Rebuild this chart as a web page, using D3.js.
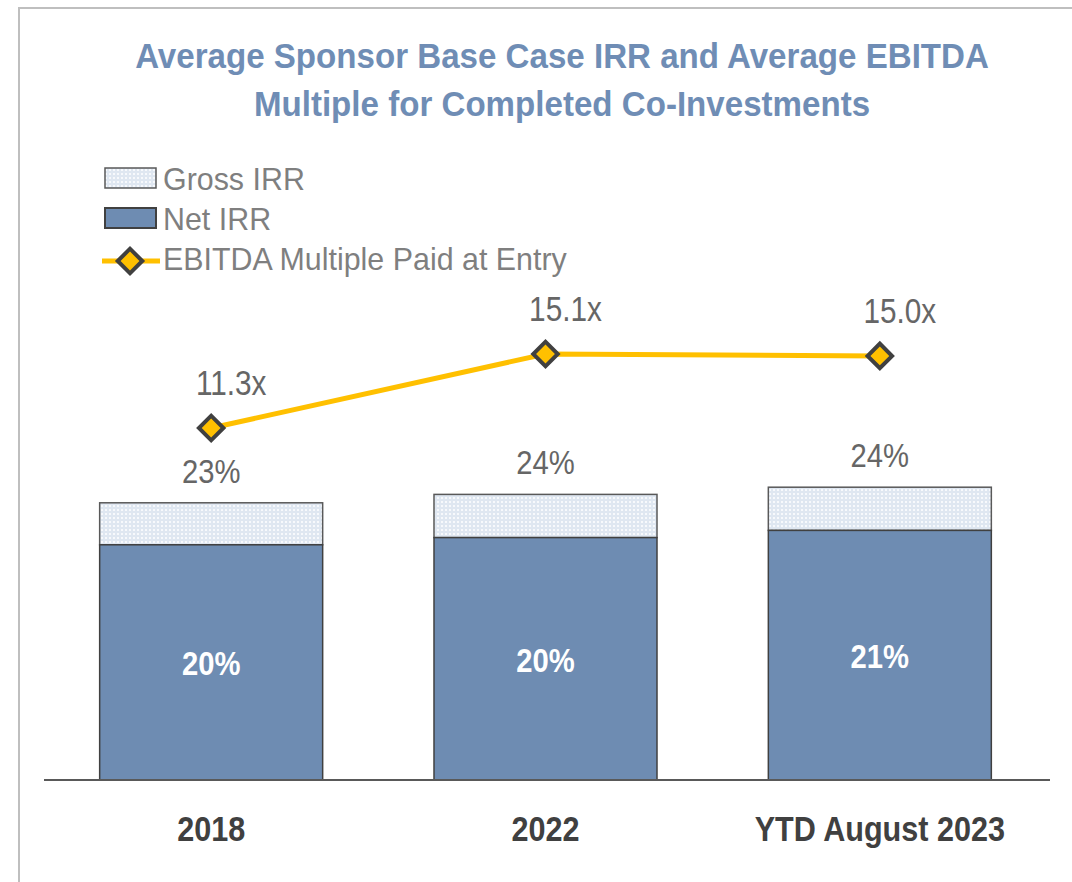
<!DOCTYPE html>
<html>
<head>
<meta charset="utf-8">
<script src="https://cdn.jsdelivr.net/npm/d3@7"></script>
<style>
  body { margin: 0; background: #fff; }
  svg { display: block; }
  text { font-family: "Liberation Sans", Arial, sans-serif; }
</style>
</head>
<body>
<div id="chart"></div>
<script>
var categories = ['2018', '2022', 'YTD August 2023'];
var netIRR = [19.6, 20.2, 20.8];
var grossIRR = [23.1, 23.8, 24.4];
var ebitdaMultiple = [11.3, 15.1, 15.0];

var w = 1072;
var h = 882;
var baseY = 780;

var svg = d3.select('#chart').append('svg')
  .attr('width', w)
  .attr('height', h);

// dotted fill for the gross part
var defs = svg.append('defs');
var pat = defs.append('pattern')
  .attr('id', 'dots')
  .attr('width', 4)
  .attr('height', 4)
  .attr('patternUnits', 'userSpaceOnUse');
pat.append('rect').attr('width', 4).attr('height', 4).attr('fill', '#dfe7f1');
pat.append('rect').attr('x', 1).attr('y', 1).attr('width', 2).attr('height', 2).attr('fill', '#f7f9fc');

// outer frame
svg.append('path')
  .attr('d', 'M19,' + h + ' L19,8 L' + w + ',8')
  .attr('fill', 'none')
  .attr('stroke', '#bfbfbf')
  .attr('stroke-width', 2);

var x = d3.scaleBand()
  .domain(categories)
  .range([44, 1047])
  .paddingInner(0.333)
  .paddingOuter(0.1665);

var y = d3.scaleLinear().domain([0, 30]).range([baseY, baseY - 360]);
var y2 = d3.scaleLinear().domain([0, 20]).range([648, 648 - 389.4]);

// helper for condensed text
function label(g, tx, ty, str, size, weight, color, sx) {
  return g.append('text')
    .attr('transform', 'translate(' + tx + ',' + ty + ') scale(' + sx + ',1)')
    .attr('text-anchor', 'middle')
    .attr('font-size', size)
    .attr('font-weight', weight)
    .attr('fill', color)
    .text(str);
}

// title
label(svg, 562, 68, 'Average Sponsor Base Case IRR and Average EBITDA', 36, 'bold', '#6f8db5', 0.92);
label(svg, 562, 116, 'Multiple for Completed Co-Investments', 36, 'bold', '#6f8db5', 0.92);

// bars
var idx = d3.range(categories.length);

svg.selectAll('.gross')
  .data(idx)
  .enter()
  .append('rect')
  .attr('class', 'gross')
  .attr('x', function (i) { return x(categories[i]); })
  .attr('y', function (i) { return y(grossIRR[i]); })
  .attr('width', x.bandwidth())
  .attr('height', function (i) { return y(netIRR[i]) - y(grossIRR[i]); })
  .attr('fill', 'url(#dots)')
  .attr('stroke', '#595959')
  .attr('stroke-width', 1.5);

svg.selectAll('.net')
  .data(idx)
  .enter()
  .append('rect')
  .attr('class', 'net')
  .attr('x', function (i) { return x(categories[i]); })
  .attr('y', function (i) { return y(netIRR[i]); })
  .attr('width', x.bandwidth())
  .attr('height', function (i) { return baseY - y(netIRR[i]); })
  .attr('fill', '#6e8cb2')
  .attr('stroke', '#404040')
  .attr('stroke-width', 1.5);

// baseline
svg.append('line')
  .attr('x1', 44).attr('x2', 1050)
  .attr('y1', baseY).attr('y2', baseY)
  .attr('stroke', '#595959')
  .attr('stroke-width', 2);

// value labels
idx.forEach(function (i) {
  var cx = x(categories[i]) + x.bandwidth() / 2;
  label(svg, cx, y(grossIRR[i]) - 20, Math.round(grossIRR[i]) + '%', 34, 'normal', '#666666', 0.86);
  label(svg, cx, (y(netIRR[i]) + baseY) / 2 + 13, Math.round(netIRR[i]) + '%', 34, 'bold', '#ffffff', 0.86);
  label(svg, cx, 841, categories[i], 36, 'bold', '#404040', 0.85);
});

// EBITDA line
var line = d3.line()
  .x(function (i) { return x(categories[i]) + x.bandwidth() / 2; })
  .y(function (i) { return y2(ebitdaMultiple[i]); });

svg.append('path')
  .datum(idx)
  .attr('d', line)
  .attr('fill', 'none')
  .attr('stroke', '#ffc000')
  .attr('stroke-width', 5);

var diamond = d3.symbol().type(d3.symbolSquare).size(300);

svg.selectAll('.marker')
  .data(idx)
  .enter()
  .append('path')
  .attr('class', 'marker')
  .attr('d', diamond)
  .attr('transform', function (i) {
    return 'translate(' + (x(categories[i]) + x.bandwidth() / 2) + ',' + y2(ebitdaMultiple[i]) + ') rotate(45)';
  })
  .attr('fill', '#ffc000')
  .attr('stroke', '#404040')
  .attr('stroke-width', 4);

idx.forEach(function (i) {
  var cx = x(categories[i]) + x.bandwidth() / 2 + 20;
  label(svg, cx, y2(ebitdaMultiple[i]) - 33, ebitdaMultiple[i].toFixed(1) + 'x', 35, 'normal', '#666666', 0.85);
});

// legend
var leg = svg.append('g');
leg.append('rect')
  .attr('x', 105).attr('y', 168).attr('width', 51).attr('height', 20)
  .attr('fill', 'url(#dots)').attr('stroke', '#595959').attr('stroke-width', 1.5);
leg.append('rect')
  .attr('x', 105).attr('y', 208).attr('width', 51).attr('height', 20)
  .attr('fill', '#6e8cb2').attr('stroke', '#404040').attr('stroke-width', 2);
leg.append('line')
  .attr('x1', 102).attr('x2', 160).attr('y1', 261).attr('y2', 261)
  .attr('stroke', '#ffc000').attr('stroke-width', 5);
leg.append('path')
  .attr('d', diamond)
  .attr('transform', 'translate(130,261) rotate(45)')
  .attr('fill', '#ffc000').attr('stroke', '#404040').attr('stroke-width', 4);

var legNames = ['Gross IRR', 'Net IRR', 'EBITDA Multiple Paid at Entry'];
legNames.forEach(function (d, i) {
  leg.append('text')
    .attr('transform', 'translate(163,' + (190 + i * 40) + ') scale(0.95,1)')
    .attr('font-size', 32)
    .attr('fill', '#7f7f7f')
    .text(d);
});
</script>
</body>
</html>
